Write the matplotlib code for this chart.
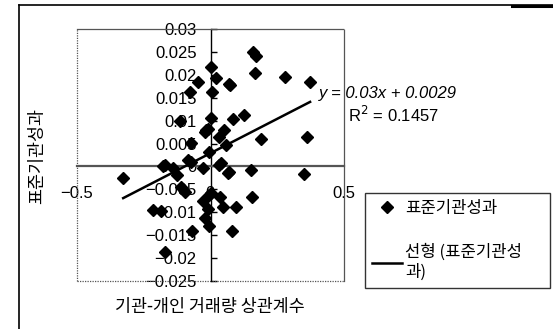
import matplotlib
matplotlib.use("Agg")
import matplotlib.pyplot as plt
from matplotlib.lines import Line2D
import numpy as np

# ---- data ----
x_vals = [0.000, 0.021, 0.068, 0.074, 0.158, 0.170, 0.168, 0.280, 0.373, 0.005,
          -0.047, -0.078, 0.003, 0.083, 0.124, -0.016, -0.022, -0.010, 0.052, 0.030,
          0.189, 0.361, 0.058, -0.004, -0.073, -0.113,
          -0.085, -0.072, -0.178, -0.172, -0.139, -0.125, -0.029, 0.040, 0.032, 0.071,
          0.064, 0.152, 0.351, -0.327,
          -0.109, -0.097, -0.215, -0.184, -0.068, -0.172, 0.003, -0.004, -0.029, 0.034,
          0.046, 0.096, 0.156, -0.008, -0.020, -0.006, 0.079]
y_vals = [0.0216, 0.0194, 0.0180, 0.0178, 0.0249, 0.0241, 0.0204, 0.0196, 0.0185, 0.0163,
          0.0184, 0.0163, 0.0105, 0.0103, 0.0112, 0.0079, 0.0075, 0.0082, 0.0079, 0.0065,
          0.0060, 0.0065, 0.0047, 0.0031, 0.0052, 0.0100,
          0.0014, 0.0010, 0.0002, 0.0003, -0.0004, -0.0018, -0.0004, 0.0007, 0.0004, -0.0012,
          -0.0015, -0.0007, -0.0017, -0.0025,
          -0.0044, -0.0055, -0.0094, -0.0097, -0.0140, -0.0186, -0.0057, -0.0062, -0.0076, -0.0067,
          -0.0088, -0.0089, -0.0066, -0.0092, -0.0113, -0.0129, -0.0141]
slope = 0.03
intercept = 0.0029
r_squared = 0.1457
x_ticks = [-0.5, 0, 0.5]
x_tick_labels = ["\u22120.5", "0", "0.5"]
y_ticks = [-0.025, -0.02, -0.015, -0.01, -0.005, 0, 0.005, 0.01, 0.015, 0.02, 0.025, 0.03]
y_tick_labels = ["\u22120.025", "\u22120.02", "\u22120.015", "\u22120.01", "\u22120.005", "0",
                 "0.005", "0.01", "0.015", "0.02", "0.025", "0.03"]
series_name = "표준기관성과"
trend_name = "선형 (표준기관성\n과)"
x_label = "기관-개인 거래량 상관계수"
y_label = "표준기관성과"

KR = ["Noto Sans CJK KR", "DejaVu Sans"]
NUM = ["Liberation Sans", "DejaVu Sans"]

W, H = 553, 329
fig = plt.figure(figsize=(W / 100, H / 100), dpi=100)

def fx(px):
    return px / W

def fy(py):
    return 1 - py / H

# outer frame (left and top lines)
fig.add_artist(Line2D([fx(19), fx(19)], [fy(5), 0], color="black", lw=1.2))
fig.add_artist(Line2D([fx(19), 1], [fy(5), fy(5)], color="black", lw=1.2))
fig.add_artist(Line2D([fx(512), 1], [fy(5.5), fy(5.5)], color="black", lw=2.2))

ax = fig.add_axes([fx(77), fy(281), fx(344) - fx(77), fy(29) - fy(281)])
ax.set_xlim(-0.5, 0.5)
ax.set_ylim(-0.025, 0.03)

for side in ["top", "right"]:
    ax.spines[side].set_linestyle((0, (1, 1)))
    ax.spines[side].set_color("#555555")
    ax.spines[side].set_linewidth(0.9)
ax.spines["left"].set_position(("data", 0))
ax.spines["bottom"].set_position(("data", 0))
ax.spines["left"].set_color("black")
ax.spines["left"].set_linewidth(1.0)
ax.spines["bottom"].set_color("#555555")
ax.spines["bottom"].set_linewidth(1.6)
ax.plot([-0.5, -0.5], [-0.025, 0.03], ls=(0, (1, 1)), color="#555555", lw=0.9, clip_on=False)
ax.plot([-0.5, 0.5], [-0.025, -0.025], ls=(0, (1, 1)), color="#555555", lw=0.9, clip_on=False)

ax.set_xticks(x_ticks)
ax.set_xticklabels(x_tick_labels, fontfamily=NUM, fontsize=12)
ax.set_yticks(y_ticks)
ax.set_yticklabels(y_tick_labels, fontfamily=NUM, fontsize=12)
ax.tick_params(axis="x", length=0, pad=14)
ax.tick_params(axis="y", direction="in", length=4, width=1, pad=10)

sc, = ax.plot(x_vals, y_vals, ls="none", marker="D", markersize=6, color="black",
              clip_on=False, zorder=5)
xl = np.array([min(x_vals), max(x_vals)])
tr, = ax.plot(xl, slope * xl + intercept, color="black", lw=1.8, zorder=4)

ax.text(0.405, 0.0160, f"y = {slope:.2f}x + {intercept:.4f}", fontfamily=NUM, fontsize=12,
        style="italic", va="center", ha="left", clip_on=False)
ax.text(0.515, 0.0112, f"R$^2$ = {r_squared:.4f}", fontfamily=NUM, fontsize=12,
        va="center", ha="left", clip_on=False)

fig.text(fx(37), fy(156), y_label, rotation=90, ha="center", va="center",
         fontfamily=KR, fontsize=12.5)
fig.text(fx(210), fy(307), x_label, ha="center", va="center", fontfamily=KR, fontsize=12.5)

leg = fig.legend([sc, tr], [series_name, trend_name],
                 bbox_to_anchor=(fx(365), fy(282), fx(550) - fx(365), fy(199) - fy(282)),
                 loc="center", mode="expand", prop={"family": KR, "size": 12},
                 frameon=True, fancybox=False, borderpad=0.4, labelspacing=1.6,
                 handlelength=1.8, handletextpad=0.2, borderaxespad=0)
leg.get_frame().set_edgecolor("black")
leg.get_frame().set_linewidth(1.0)

fig.savefig("out.png", dpi=100)
